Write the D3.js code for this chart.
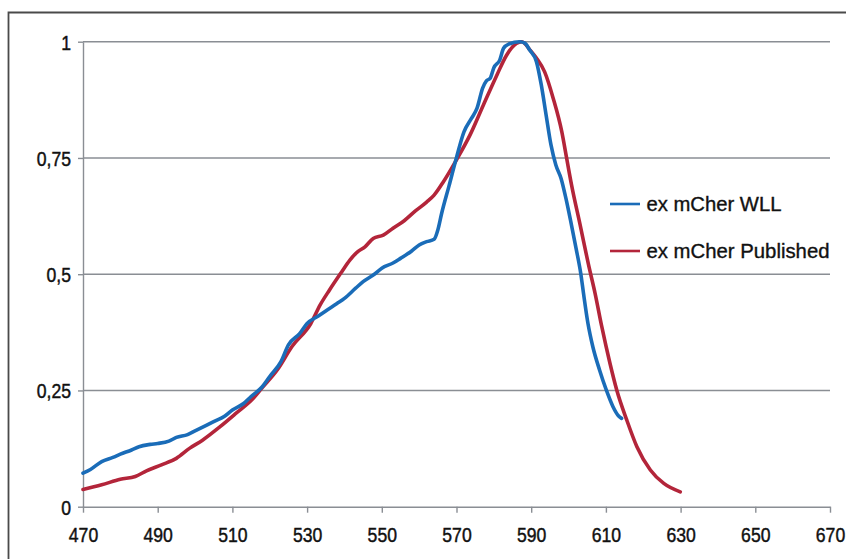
<!DOCTYPE html>
<html>
<head>
<meta charset="utf-8">
<script src="https://cdn.jsdelivr.net/npm/d3@7"></script>
<style>
  html, body { margin: 0; padding: 0; background: #fff; }
  svg { display: block; }
</style>
</head>
<body>
<svg id="chart" width="846" height="559"></svg>
<script>
// ---- data ----
const wllX = [470,472,475,478,480,483,485,488,490,493,495,498,500,503,505,508,510,513,515,518,520,523,525,528,530,533,535,538,540,543,545,548,550,553,555,558,560,562,564,565,566,568,570,572,574,575.5,577,578,579,580,581.6,582.6,584,587,588.3,589.6,591.4,592.7,594,595.3,596.6,598,599.3,600.6,602,603.3,604,605.2,606.5,608.3,610.1,611.9,613.4,614.2];
const wllY = [0.072,0.080,0.097,0.106,0.113,0.122,0.129,0.134,0.136,0.141,0.149,0.155,0.163,0.175,0.183,0.195,0.208,0.222,0.237,0.258,0.280,0.312,0.348,0.372,0.394,0.410,0.421,0.437,0.448,0.470,0.484,0.500,0.513,0.524,0.534,0.550,0.563,0.570,0.575,0.595,0.630,0.690,0.751,0.806,0.835,0.857,0.900,0.916,0.921,0.944,0.961,0.986,0.995,1.0,0.997,0.982,0.957,0.907,0.842,0.778,0.735,0.706,0.663,0.613,0.556,0.500,0.459,0.394,0.344,0.294,0.251,0.215,0.195,0.190];

const pubX = [470,475,480,484,487,491,495,498.6,502,506.7,511,515.6,518,522,526,531,533.5,536,539,541.5,543.5,545.5,547.7,550.4,553,556,559,562,564,566.5,570,573.6,577.2,580.8,583.4,586,587.5,589.7,591.4,593.6,595.9,598.2,599.5,600.8,603.1,605.3,607.1,608.9,611.1,612.9,615.6,618.3,621.9,625.5,629.9];
const pubY = [0.037,0.047,0.059,0.065,0.077,0.090,0.104,0.126,0.143,0.172,0.201,0.233,0.256,0.294,0.345,0.394,0.434,0.466,0.502,0.531,0.548,0.559,0.577,0.584,0.599,0.615,0.636,0.655,0.670,0.699,0.746,0.799,0.864,0.928,0.971,0.996,1.0,0.982,0.965,0.935,0.878,0.806,0.749,0.692,0.606,0.522,0.459,0.387,0.308,0.251,0.186,0.129,0.079,0.050,0.032];

const xTicks = [470,490,510,530,550,570,590,610,630,650,670];
const yTicks = [0,0.25,0.5,0.75,1];
const yTickLabels = ["0","0,25","0,5","0,75","1"];
const seriesNames = ["ex mCher WLL","ex mCher Published"];
const seriesColors = ["#1a6cb8","#b3253a"];

// ---- chart ----
const svg = d3.select("#chart");
const plotL = 83, plotR = 830, plotT = 41.7, plotB = 506.7;

const x = d3.scaleLinear().domain([470,670]).range([plotL,plotR]);
const y = d3.scaleLinear().domain([0,1]).range([plotB,plotT]);

// outer frame (cropped)
svg.append("path")
  .attr("d","M8.5,559 V12.5 H846")
  .attr("fill","none").attr("stroke","#4a4a4a").attr("stroke-width",1.8);

// gridlines
svg.append("g").selectAll("line").data(yTicks.filter(d=>d>0)).join("line")
  .attr("x1",plotL).attr("x2",plotR)
  .attr("y1",d=>y(d)).attr("y2",d=>y(d))
  .attr("stroke","#8a8e94").attr("stroke-width",1.4);

const fontTick = "'Liberation Sans',Arial,sans-serif";
const sx = 0.86;

// y axis
const yAxis = svg.append("g").attr("transform",`translate(${plotL},0)`)
  .call(d3.axisLeft(y).tickValues(yTicks).tickFormat((d,i)=>yTickLabels[i]).tickSizeInner(5).tickSizeOuter(0).tickPadding(7));
yAxis.select(".domain").attr("stroke","#8a8e94").attr("stroke-width",1.4);
yAxis.selectAll(".tick line").attr("stroke","#8a8e94").attr("stroke-width",1.4);
yAxis.selectAll(".tick text").attr("font-family",fontTick).attr("font-size",20.5).attr("fill","#111")
  .attr("stroke","#111").attr("stroke-width",0.45)
  .attr("dy","0.36em").attr("x",-12/sx).attr("transform",`scale(${sx},1)`);

// x axis
const xAxis = svg.append("g").attr("transform",`translate(0,${plotB})`)
  .call(d3.axisBottom(x).tickValues(xTicks).tickFormat(d3.format("d")).tickSizeInner(6).tickSizeOuter(0).tickPadding(15));
xAxis.select(".domain").attr("stroke","#8a8e94").attr("stroke-width",1.4);
xAxis.selectAll(".tick line").attr("stroke","#8a8e94").attr("stroke-width",1.4);
xAxis.selectAll(".tick text").attr("font-family",fontTick).attr("font-size",20.5).attr("fill","#111")
  .attr("stroke","#111").attr("stroke-width",0.45)
  .attr("transform",`scale(${sx},1)`);

// lines
const line = d3.line().x(d=>x(d[0])).y(d=>y(d[1])).curve(d3.curveMonotoneX);
const pubData = pubX.map((v,i)=>[v,pubY[i]]);
const wllData = wllX.map((v,i)=>[v,wllY[i]]);

svg.append("path").datum(pubData).attr("d",line)
  .attr("fill","none").attr("stroke",seriesColors[1]).attr("stroke-width",3.6).attr("stroke-linejoin","round").attr("stroke-linecap","round");
svg.append("path").datum(wllData).attr("d",line)
  .attr("fill","none").attr("stroke",seriesColors[0]).attr("stroke-width",3.6).attr("stroke-linejoin","round").attr("stroke-linecap","round");

// legend
const legY = [204, 251];
const legW = [135, 183];
const leg = svg.append("g");
seriesNames.forEach((name,i)=>{
  leg.append("line").attr("x1",610).attr("x2",640).attr("y1",legY[i]).attr("y2",legY[i])
    .attr("stroke",seriesColors[i]).attr("stroke-width",2.6);
  leg.append("text").attr("x",646.5).attr("y",legY[i]+7)
    .attr("font-family","'Liberation Sans',Arial,sans-serif").attr("font-size",19.5)
    .attr("fill","#111").attr("stroke","#111").attr("stroke-width",0.35)
    .attr("textLength",legW[i]).attr("lengthAdjust","spacingAndGlyphs")
    .text(name);
});
</script>
</body>
</html>
